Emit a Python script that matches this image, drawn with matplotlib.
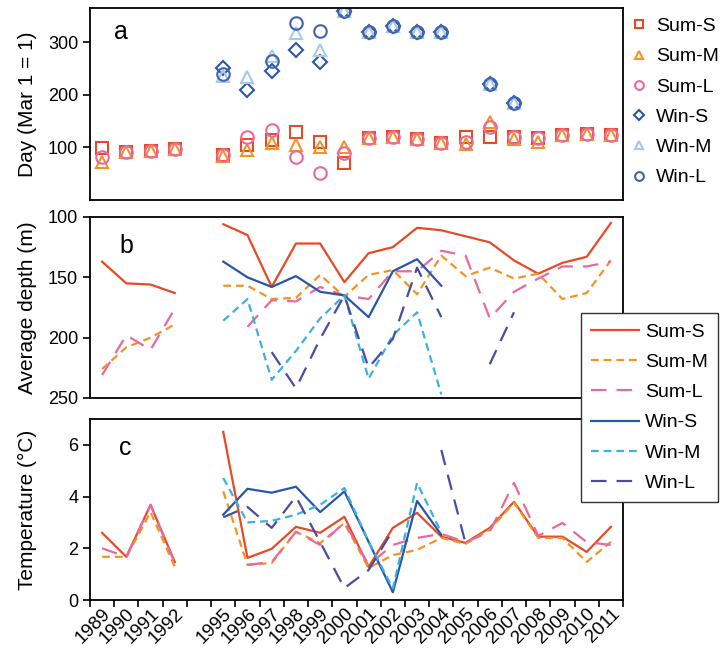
import matplotlib
matplotlib.use("Agg")
import matplotlib.pyplot as plt
import numpy as np

nan = np.nan

years = [1989, 1990, 1991, 1992, 1995, 1996, 1997, 1998, 1999, 2000, 2001,
         2002, 2003, 2004, 2005, 2006, 2007, 2008, 2009, 2010, 2011]
labels = ['Sum-S', 'Sum-M', 'Sum-L', 'Win-S', 'Win-M', 'Win-L']

# panel a: day of year (Mar 1 = 1)
day_sum_s = [99, 92, 94, 97, 85, 105, 114, 129, 110, 71, 118, 120, 116, 108, 120, 120, 120, 118, 124, 126, 124]
day_sum_m = [72, 92, 94, 97, 83, 95, 108, 105, 101, 101, 118, 120, 116, 108, 107, 149, 116, 110, 124, 126, 124]
day_sum_l = [82, 92, 94, 97, 85, 120, 133, 82, 51, 89, 118, 120, 116, 108, 111, 139, 120, 118, 124, 126, 124]
day_win_s = [nan, nan, nan, nan, 251, 210, 246, 286, 263, 360, 320, 331, 320, 319, nan, 221, 184, nan, nan, nan, nan]
day_win_m = [nan, nan, nan, nan, 235, 234, 273, 318, 286, 360, 320, 331, 320, 319, nan, 221, 184, nan, nan, nan, nan]
day_win_l = [nan, nan, nan, nan, 240, nan, 265, 337, 322, 360, 320, 331, 320, 319, nan, 221, 184, nan, nan, nan, nan]

# panel b: average depth (m)
dep_sum_s = [137, 155, 156, 163, 106, 115, 158, 122, 122, 154, 130, 125, 109, 111, 116, 121, 136, 147, 138, 133, 105]
dep_sum_m = [226, 208, 200, 189, 157, 157, 168, 167, 148, 166, 148, 144, 164, 132, 149, 142, 151, 147, 168, 163, 136]
dep_sum_l = [231, 198, 210, 176, nan, 191, 169, 170, 158, 165, 168, 145, 145, 128, 132, 184, 162, 151, 141, 141, 137]
dep_win_s = [nan, nan, nan, nan, 137, 150, 158, 149, 162, 165, 183, 145, 135, 157, nan, nan, nan, nan, nan, nan, nan]
dep_win_m = [nan, nan, nan, nan, 186, 168, 235, 211, 184, 165, 234, 198, 179, 247, nan, nan, nan, nan, nan, nan, nan]
dep_win_l = [nan, nan, nan, nan, nan, nan, 212, 242, 201, 165, 225, 201, 142, 183, nan, 222, 179, nan, nan, nan, nan]

# panel c: temperature (C)
tmp_sum_s = [2.6, 1.67, 3.68, 1.47, 6.5, 1.63, 1.98, 2.83, 2.6, 3.22, 1.28, 2.79, 3.37, 2.45, 2.21, 2.79, 3.8, 2.45, 2.45, 1.86, 2.83]
tmp_sum_m = [1.67, 1.67, 3.4, 1.28, 4.2, 1.36, 1.43, 2.64, 2.2, 2.98, 1.24, 1.74, 1.94, 2.4, 2.17, 2.72, 3.76, 2.4, 2.4, 1.47, 2.25]
tmp_sum_l = [2.0, 1.67, 3.68, 1.43, nan, 1.36, 1.47, 2.64, 2.13, 3.0, 1.36, 2.13, 2.4, 2.56, 2.24, 2.64, 4.53, 2.48, 2.98, 2.24, 2.13]
tmp_win_s = [nan, nan, nan, nan, 3.3, 4.3, 4.15, 4.38, 3.4, 4.2, 2.25, 0.3, 3.83, 2.52, nan, nan, nan, nan, nan, nan, nan]
tmp_win_m = [nan, nan, nan, nan, 4.72, 3.0, 3.06, 3.3, 3.68, 4.33, 2.25, 0.45, 4.53, 2.6, nan, nan, nan, nan, nan, nan, nan]
tmp_win_l = [nan, nan, nan, nan, 3.2, 3.6, 2.79, 4.0, 2.24, 0.46, 1.16, 2.7, nan, 5.8, 2.2, nan, nan, nan, nan, nan, nan]

plt.rcParams['font.family'] = ['Liberation Sans', 'DejaVu Sans']
plt.rcParams['font.size'] = 13

# one empty slot for the 1993-94 gap, so lines break there
slots = [y - 1989 if y < 1995 else y - 1990 for y in years]
nslot = slots[-1] + 1
x = np.arange(nslot) + 0.5


def spread(vals):
    a = np.full(nslot, nan)
    a[slots] = vals
    return a


colors = ['#e84a27', '#f39323', '#e8699e', '#2a56a8', '#3cb0e4', '#4a4c9f']
mcolors = ['#e84a27', '#f39323', '#e8699e', '#2a56a8', '#a6c8ea', '#3f63b0']
markers = ['s', '^', 'o', 'D', '^', 'o']
msizes = [9, 9, 9, 7, 9, 9]
dashes = [None, (3.5, 2.2), (7, 4.5), None, (3.5, 2.2), (7, 4.5)]

fig = plt.figure(figsize=(7.28, 6.5), dpi=100)
ax1 = fig.add_axes([0.1236, 0.6923, 0.7322, 0.2954])
ax2 = fig.add_axes([0.1236, 0.3877, 0.7322, 0.2785])
ax3 = fig.add_axes([0.1236, 0.0769, 0.7322, 0.2785])

# panel a
for i, d in enumerate([day_sum_s, day_sum_m, day_sum_l, day_win_s, day_win_m, day_win_l]):
    ax1.plot(x, spread(d), linestyle='none', marker=markers[i], ms=msizes[i], mfc='none',
             mec=mcolors[i], mew=1.5, label=labels[i])
ax1.set_ylim(0, 365)
ax1.set_yticks([100, 200, 300])
ax1.set_ylabel('Day (Mar 1 = 1)', fontsize=15)
ax1.text(0.045, 0.84, 'a', transform=ax1.transAxes, fontsize=18)

# panel b
lines = []
for i, d in enumerate([dep_sum_s, dep_sum_m, dep_sum_l, dep_win_s, dep_win_m, dep_win_l]):
    ln, = ax2.plot(x, spread(d), color=colors[i], lw=1.6, label=labels[i])
    if dashes[i] is not None:
        ln.set_dashes(dashes[i])
    lines.append(ln)
ax2.set_ylim(250, 100)
ax2.set_yticks([100, 150, 200, 250])
ax2.set_ylabel('Average depth (m)', fontsize=15)
ax2.text(0.055, 0.8, 'b', transform=ax2.transAxes, fontsize=18)

# panel c
for i, d in enumerate([tmp_sum_s, tmp_sum_m, tmp_sum_l, tmp_win_s, tmp_win_m, tmp_win_l]):
    ln, = ax3.plot(x, spread(d), color=colors[i], lw=1.6)
    if dashes[i] is not None:
        ln.set_dashes(dashes[i])
ax3.set_ylim(0, 7)
ax3.set_yticks([0, 2, 4, 6])
ax3.set_ylabel('Temperature (\u00b0C)', fontsize=15)
ax3.text(0.055, 0.8, 'c', transform=ax3.transAxes, fontsize=18)

for ax in [ax1, ax2, ax3]:
    ax.set_xlim(0, nslot)
    for s in ax.spines.values():
        s.set_linewidth(1.3)
    ax.tick_params(axis='y', direction='out', length=5, width=1.2, labelsize=13)
    ax.yaxis.set_label_coords(-0.1, 0.5)

ax1.set_xticks([])
ax2.set_xticks([])
ax3.set_xticks(np.arange(nslot + 1))
ax3.set_xticklabels([])
ax3.set_xticks(x[slots], minor=True)
ax3.set_xticklabels([str(y) for y in years], minor=True, rotation=45, ha='right',
                    rotation_mode='anchor', fontsize=13.5)
ax3.tick_params(axis='x', which='major', direction='out', length=5, width=1.2)
ax3.tick_params(axis='x', which='minor', length=0, pad=4)

# legends
h1, l1 = ax1.get_legend_handles_labels()
fig.legend(h1, l1, loc='upper left', bbox_to_anchor=(0.858, 0.982), frameon=False,
           fontsize=14, labelspacing=0.65, handlelength=0.9, handletextpad=0.4,
           markerscale=0.7, borderaxespad=0, borderpad=0.3)
fig.legend(lines, labels, loc='upper left', bbox_to_anchor=(0.798, 0.518), frameon=True,
           fancybox=False, edgecolor='#333333', framealpha=1, fontsize=14,
           labelspacing=0.65, handlelength=2.5, handletextpad=0.3, borderpad=0.5,
           borderaxespad=0)

fig.savefig('out.png', dpi=100)
